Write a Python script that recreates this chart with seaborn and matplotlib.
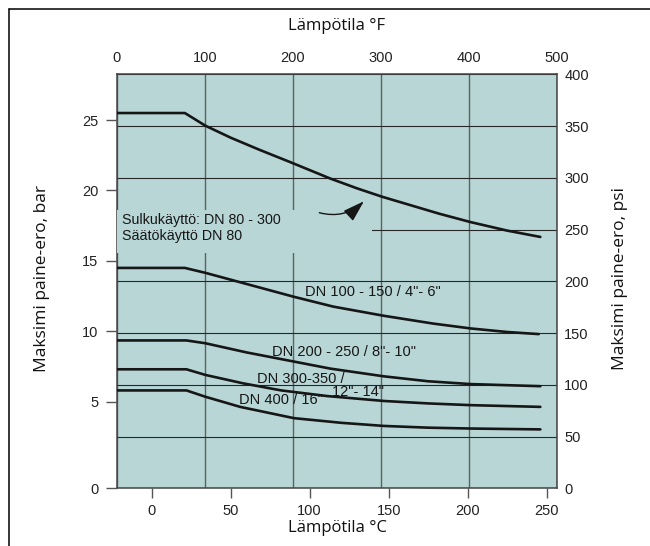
"""
Maksimi paine-ero vs. lämpötila chart (bar/°C with psi/°F companion scales).
"""

import numpy as np
import pandas as pd
import matplotlib.pyplot as plt
import seaborn as sns
from matplotlib.patches import Rectangle
from matplotlib.lines import Line2D

# Curves: temperature in °C, max pressure difference in bar
temp_dn80 = [-22, 21, 34, 50, 68, 88, 113, 130, 146, 164, 182, 202, 225, 246]
bar_dn80 = [25.5, 25.5, 24.6, 23.75, 22.9, 22.0, 20.85, 20.15, 19.55, 18.95,
            18.35, 17.75, 17.15, 16.7]

temp_dn100 = [-22, 21, 34, 62, 90, 115, 147, 178, 202, 225, 245]
bar_dn100 = [14.5, 14.5, 14.15, 13.3, 12.45, 11.75, 11.1, 10.55, 10.2, 9.95, 9.8]

temp_dn200 = [-22, 22, 34, 60, 90, 113, 147, 175, 202, 246]
bar_dn200 = [9.35, 9.35, 9.15, 8.5, 7.85, 7.35, 6.8, 6.45, 6.25, 6.1]

temp_dn300 = [-22, 22, 34, 58, 82, 111, 147, 175, 202, 246]
bar_dn300 = [7.3, 7.3, 6.9, 6.3, 5.8, 5.4, 5.05, 4.9, 4.8, 4.7]

temp_dn400 = [-22, 22, 34, 56, 90, 120, 147, 175, 202, 246]
bar_dn400 = [5.8, 5.8, 5.35, 4.7, 4.05, 3.78, 3.6, 3.5, 3.45, 3.4]

sizes = ['DN 80 - 300', 'DN 100 - 150', 'DN 200 - 250', 'DN 300 - 350', 'DN 400']

celsius_ticks = [0, 50, 100, 150, 200, 250]
bar_ticks = [0, 5, 10, 15, 20, 25]
fahrenheit_ticks = [0, 100, 200, 300, 400, 500]
psi_ticks = [0, 50, 100, 150, 200, 250, 300, 350, 400]

curve_labels = ['DN 100 - 150 / 4"- 6"', 'DN 200 - 250 / 8"- 10"',
                'DN 300-350 /', '12"- 14"', 'DN 400 / 16"']
label_temp = [97, 76, 66.5, 114, 55]
label_bar = [12.8, 8.55, 6.6, 5.7, 5.1]

note_text = 'Sulkukäyttö: DN 80 - 300\nSäätökäyttö DN 80'

BG = '#b9d6d6'
INK = '#161616'

sns.set_style('white')
plt.rcParams['font.family'] = ['Liberation Sans', 'DejaVu Sans']


# the 0..5 bar stretch of the left scale is drawn taller than the rest
LOW = 17.32 / 14.08


def bar_fwd(v):
    v = np.asarray(v, dtype=float)
    return np.where(v < 5, v * LOW, 5 * LOW + (v - 5))


def bar_inv(u):
    u = np.asarray(u, dtype=float)
    return np.where(u < 5 * LOW, u / LOW, u - 5 * LOW + 5)


df = pd.concat([
    pd.DataFrame({'temp': t, 'bar': b, 'size': s})
    for t, b, s in zip([temp_dn80, temp_dn100, temp_dn200, temp_dn300, temp_dn400],
                       [bar_dn80, bar_dn100, bar_dn200, bar_dn300, bar_dn400],
                       sizes)
], ignore_index=True)

fig = plt.figure(figsize=(6.5, 5.46), dpi=100)
rect = [0.1795, 0.1057, 0.6778, 0.7582]

# background axes: °F on top, psi on the right, carries the grid
ax_bg = fig.add_axes(rect)
ax_bg.set_facecolor(BG)
ax_bg.set_xlim(0, 500)
ax_bg.set_ylim(0, 400)
ax_bg.set_xticks(fahrenheit_ticks)
ax_bg.set_yticks(psi_ticks)
ax_bg.xaxis.tick_top()
ax_bg.yaxis.tick_right()
ax_bg.tick_params(axis='x', length=0, pad=7, labelsize=10.5, colors='#222222')
ax_bg.tick_params(axis='y', length=0, pad=5, labelsize=10.5, colors='#222222')
ax_bg.xaxis.grid(True, color='#566464', lw=1.0)
ax_bg.yaxis.grid(True, color='#262626', lw=0.8)
for sp in ax_bg.spines.values():
    sp.set_color('#444444')
    sp.set_linewidth(1.1)

# front axes: °C at the bottom, bar on the left, carries the curves
ax = fig.add_axes(rect)
ax.patch.set_alpha(0)
sns.lineplot(data=df, x='temp', y='bar', hue='size', palette=[INK] * len(sizes),
             estimator=None, sort=False, legend=False, lw=1.9, ax=ax)
ax.set_yscale('function', functions=(bar_fwd, bar_inv))
ax.set_xlim(-22.15, 256.7)
ax.set_ylim(0, 28.25)
ax.set_xticks(celsius_ticks)
ax.set_yticks(bar_ticks)
ax.set_yticklabels([str(v) for v in bar_ticks])
ax.minorticks_off()
ax.set_xlabel('')
ax.set_ylabel('')
ax.tick_params(axis='x', bottom=True, length=7, width=1, color='#555555',
               pad=4, labelsize=10.5, labelcolor='#222222')
ax.tick_params(axis='y', left=True, length=8, width=1, color='#555555',
               pad=5, labelsize=10.5, labelcolor='#222222')
for sp in ax.spines.values():
    sp.set_visible(False)

# note box hides the grid behind the text and arrow
ax.add_patch(Rectangle((0, 0.5686), 0.579, 0.1036, transform=ax.transAxes,
                       facecolor=BG, edgecolor='none', zorder=1))
ax.text(-18.8, 17.33, note_text, ha='left', va='center', fontsize=10.3,
        color=INK, linespacing=1.15, zorder=3)
ax.annotate('', xy=(135.6, 19.37), xytext=(104.4, 18.47),
            arrowprops=dict(arrowstyle='-|>,head_length=1.1,head_width=0.35',
                            connectionstyle='arc3,rad=0.3', color=INK, lw=1,
                            mutation_scale=12), zorder=3)

for txt, t, b in zip(curve_labels, label_temp, label_bar):
    ax.text(t, b, txt, ha='left', va='center', fontsize=10.5, color=INK, zorder=3)

# axis titles
title_font = ['Open Sans', 'DejaVu Sans']
fig.text(0.5185, 0.952, 'Lämpötila °F', ha='center', va='center',
         fontsize=12, family=title_font, color='#111111')
fig.text(0.5185, 0.033, 'Lämpötila °C', ha='center', va='center',
         fontsize=12, family=title_font, color='#111111')
fig.text(0.065, 0.49, 'Maksimi paine-ero, bar', ha='center', va='center',
         rotation=90, fontsize=12.5, family=title_font, color='#111111')
fig.text(0.954, 0.49, 'Maksimi paine-ero, psi', ha='center', va='center',
         rotation=90, fontsize=12.5, family=title_font, color='#111111')

# frame lines on the left and top edges
fx, fy = 9.3 / 650, 1 - 9.3 / 546
fig.add_artist(Line2D([fx, fx], [0, fy], transform=fig.transFigure, color='black', lw=1.1))
fig.add_artist(Line2D([fx, 1], [fy, fy], transform=fig.transFigure, color='black', lw=1.1))

fig.savefig('out.png', dpi=100, facecolor='white')
